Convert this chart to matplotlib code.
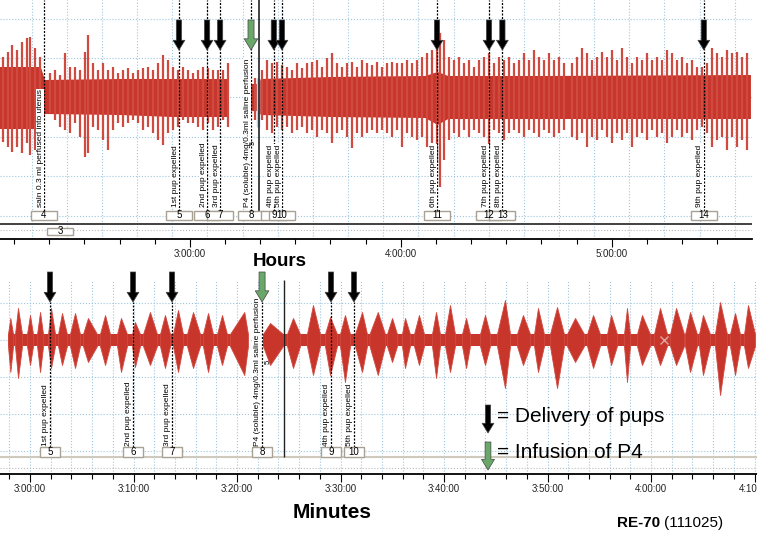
import matplotlib
matplotlib.use('Agg')
import matplotlib.pyplot as plt
from matplotlib.patches import Rectangle
from matplotlib.ticker import FuncFormatter, MultipleLocator
import numpy as np

plt.rcParams['font.family'] = ['Liberation Sans', 'DejaVu Sans']

# ---------------- top panel (hours view), time in minutes ----------------
top_spike_t = [126.9, 128.3, 129.4, 130.8, 132.3, 133.7, 134.5, 136.0, 137.4,
               140.2, 141.6, 143.1, 144.5, 145.9, 147.3, 148.8, 150.2, 151.0, 152.4, 153.9,
               155.3, 156.7, 158.1, 159.6, 161.0, 162.4, 163.8, 165.2, 166.7, 168.1, 169.5,
               170.9, 172.4, 173.8, 175.2, 176.6, 178.0, 179.5,
               180.9, 182.3, 183.7, 185.2, 186.6, 188.0, 189.4, 190.8,
               197.1, 198.5, 200.5, 201.9, 203.4, 204.8, 206.2, 207.6, 209.0, 210.5, 211.9,
               213.3, 214.7, 216.2, 217.6, 219.0, 220.4, 221.8, 223.3, 224.7, 226.1, 227.5,
               229.0, 230.4, 231.8, 233.2,
               234.6, 236.1, 237.5, 238.9, 240.3, 241.8, 243.2, 244.6, 246.0, 247.4, 248.9,
               250.3, 251.1, 252.3, 253.7, 255.1, 256.5, 258.0, 259.4, 260.8, 262.2, 263.6,
               265.1, 266.5, 267.9, 269.3, 270.8, 272.2, 273.6, 275.0, 276.5, 277.9, 279.3,
               280.7, 282.1, 283.6, 285.0, 286.4,
               288.7, 290.1, 291.5, 292.9, 294.4, 295.8, 297.2, 298.6, 300.1, 301.5, 302.9,
               304.3, 305.7, 307.2, 308.6, 310.0, 311.4, 312.9, 314.3, 315.7, 317.1, 318.5,
               320.0, 321.4, 322.8, 324.2, 325.7, 327.1, 328.5, 329.9, 331.3, 332.8, 334.2,
               335.6, 337.0, 338.5]
top_spike_up = [40, 45, 52, 47, 55, 59, 60, 49, 40,
                24, 27, 22, 44, 30, 30, 27, 45, 62, 34, 27, 34, 27, 30, 24, 27, 29, 24, 27,
                29, 30, 27, 34, 42, 37, 30, 27, 30, 27,
                24, 27, 30, 29, 27, 27, 27, 34,
                17, 19, 27, 37, 34, 35, 32, 30, 27, 34, 29, 34, 35, 37, 30, 39, 44, 34, 30,
                34, 35, 30, 37, 34, 32, 35,
                30, 34, 35, 34, 34, 37, 34, 37, 40, 44, 47, 57, 64, 57, 40, 37, 40, 34, 37,
                30, 37, 40, 44, 34, 40, 37, 40, 34, 37, 44, 37, 47, 40, 37, 44, 37, 40, 34,
                34, 40, 49, 44, 37, 40, 45, 40, 47, 37, 49, 40, 34, 40, 37, 44, 37, 40, 37,
                47, 44, 37, 40, 34, 37, 30, 30, 34, 49, 44, 40, 47, 44, 45, 40, 44]
top_spike_dn = [45, 50, 55, 50, 56, 46, 58, 53, 46,
                16, 23, 30, 33, 36, 26, 40, 60, 56, 30, 33, 43, 53, 33, 26, 30, 26, 23, 26,
                33, 30, 36, 43, 48, 36, 33, 30, 23, 26,
                26, 30, 33, 26, 33, 30, 23, 30,
                20, 23, 23, 33, 36, 30, 33, 30, 36, 33, 30, 36, 33, 40, 33, 36, 46, 36, 33,
                40, 51, 36, 40, 36, 33, 36,
                33, 36, 40, 33, 50, 36, 40, 43, 40, 50, 46, 66, 90, 63, 43, 36, 40, 33, 40,
                33, 36, 40, 50, 33, 36, 43, 36, 33, 36, 40, 33, 36, 40, 33, 36, 40, 36, 33,
                40, 43, 36, 50, 40, 43, 33, 40, 46, 36, 43, 36, 50, 40, 36, 43, 33, 40, 36,
                46, 40, 33, 40, 36, 43, 33, 30, 36, 50, 43, 40, 53, 40, 50, 43, 53]

top_core_t = [126.0, 137.6, 138.8, 160.0, 175.0, 190.9, 191.0, 196.4, 196.5, 199.5,
              200.2, 220.0, 247.0, 250.5, 253.5, 280.0, 339.6]
top_core_up = [30, 30, 17, 18, 18, 18, np.nan, np.nan, 13, 13, 18, 20, 21, 25, 21, 21, 22]
top_core_dn = [32, 32, 17, 18, 20, 20, np.nan, np.nan, 14, 14, 18, 20, 21, 28, 22, 22, 22]

top_event_t = [138.5, 176.9, 184.9, 188.6, 197.4, 203.9, 206.2, 250.3, 265.1, 268.9, 326.2]
top_event_num = ['4', '5', '6', '7', '8', '9', '10', '11', '12', '13', '14']
top_event_text = ['saln 0.3 ml perfused into uterus', '1st pup expelled', '2nd pup expelled',
                  '3rd pup expelled', 'P4 (soluble) 4mg/0.3ml saline perfusion',
                  '4th pup expelled', '5th pup expelled', '6th pup expelled',
                  '7th pup expelled', '8th pup expelled', '9th pup expelled']
top_marker_t = 199.7

# ---------------- bottom panel (minutes view) ----------------
base_start = [177.87, 202.51]
base_end = [201.06, 250.05]
b_start = [177.87, 178.55, 179.71, 180.68, 181.74, 182.71, 183.86, 185.12, 186.76, 188.41,
           189.86, 190.92, 192.56, 193.82, 195.17, 196.71, 198.07, 199.32, 202.51, 204.83,
           206.76, 208.50, 209.95, 211.40, 212.80, 214.49, 215.94, 217.10, 218.84, 220.10,
           221.74, 223.48, 225.12, 227.05, 228.70, 230.24, 231.88, 233.82, 235.75, 237.39,
           238.65, 240.29, 241.84, 243.29, 244.64, 246.18, 247.63, 248.99]
b_peak = [178.10, 178.84, 180.00, 180.97, 182.03, 183.09, 184.35, 185.60, 187.25, 188.79,
          190.14, 191.59, 193.04, 194.30, 195.75, 197.20, 198.55, 200.70, 203.19, 205.41,
          207.34, 208.99, 210.43, 212.08, 213.60, 214.98, 216.23, 217.58, 219.23, 220.58,
          222.13, 223.96, 225.89, 227.63, 229.08, 230.92, 232.66, 234.40, 236.14, 237.68,
          239.13, 240.87, 242.42, 243.77, 245.02, 246.67, 248.12, 249.37]
b_end = [178.36, 179.23, 180.29, 181.26, 182.42, 183.57, 184.83, 186.47, 187.73, 189.37,
         190.63, 192.27, 193.53, 194.78, 196.43, 197.68, 199.03, 201.06, 204.44, 206.09,
         208.02, 209.66, 210.92, 212.56, 214.30, 215.46, 216.71, 218.07, 219.61, 221.06,
         222.51, 224.44, 226.38, 228.31, 229.66, 231.59, 233.53, 235.07, 236.71, 237.97,
         239.90, 241.55, 243.19, 244.44, 245.70, 247.34, 248.60, 250.05]
b_up = [22, 32, 25, 28, 32, 27, 27, 22, 25, 22, 18, 28, 25, 30, 28, 27, 25, 28, 17, 22,
        35, 23, 25, 28, 28, 22, 22, 25, 28, 35, 22, 25, 40, 25, 32, 33, 22, 25, 25, 32,
        25, 32, 32, 28, 25, 38, 27, 35]
b_dn = [32, 38, 25, 32, 28, 25, 28, 22, 25, 32, 27, 25, 28, 32, 28, 32, 25, 35, 25, 28,
        35, 35, 42, 32, 35, 22, 28, 25, 38, 32, 28, 25, 48, 25, 32, 48, 22, 28, 25, 42,
        25, 25, 25, 32, 35, 55, 35, 28]

bot_event_t = [181.93, 189.95, 193.72, 202.42, 209.08, 211.30]
bot_event_num = ['5', '6', '7', '8', '9', '10']
bot_event_text = ['1st pup expelled', '2nd pup expelled', '3rd pup expelled',
                  'P4 (soluble) 4mg/0.3ml saline perfusion', '4th pup expelled',
                  '5th pup expelled']
bot_marker_t = 204.54

RED = '#c8352b'
SPIKE = '#d04a40'
GREEN = '#6aa86a'
GRID = '#9fc6de'


def hms(v, pos=None):
    total = int(round(v * 60))
    return f"{total // 3600}:{(total % 3600) // 60:02d}:{total % 60:02d}"


def arrow(ax, x, y0, y1, color, s=1.0, coords='data'):
    ax.annotate('', xy=(x, y1), xytext=(x, y0), xycoords=coords, textcoords=coords,
                arrowprops=dict(arrowstyle=f'simple,head_length={0.7*s},head_width={0.85*s},'
                                           f'tail_width={0.38*s}',
                                fc=color, ec='#444444', lw=0.5, shrinkA=0, shrinkB=0),
                annotation_clip=False, zorder=8)


def style_axis(ax, hgrid, vgrid):
    for side in ['top', 'left', 'right']:
        ax.spines[side].set_visible(False)
    ax.spines['bottom'].set_linewidth(1.3)
    ax.set_yticks([])
    for g in hgrid:
        ax.axhline(g, color=GRID, ls=':', lw=0.8, zorder=0)
    for g in vgrid:
        ax.axvline(g, color=GRID, ls=':', lw=0.8, zorder=0)
    ax.xaxis.set_major_formatter(FuncFormatter(hms))
    ax.tick_params(axis='x', which='major', length=6, width=0.8, labelsize=7, pad=1.5,
                   labelcolor='#222222')
    ax.tick_params(axis='x', which='minor', length=3.5, width=0.8)


def events(ax, times, nums, texts, y_line_top, y_box, box_h, box_w, y_text):
    for t, n, txt in zip(times, nums, texts):
        ax.vlines(t, y_box + box_h, y_line_top, color='black', lw=0.9,
                  linestyles=(0, (1.6, 1.2)), zorder=4)
        ax.text(t - 0.1, y_text, txt, rotation=90, ha='right', va='bottom', fontsize=6,
                bbox=dict(fc='white', ec='none', pad=0.3), zorder=5)
        ax.add_patch(Rectangle((t - box_w / 2, y_box), box_w, box_h, fc='white',
                               ec='#a8a294', lw=1.0, zorder=6))
        ax.text(t, y_box + box_h / 2, n, ha='center', va='center', fontsize=7, zorder=7)


fig = plt.figure(figsize=(7.57, 5.35), dpi=100)
W, H = 757, 535
ax1 = fig.add_axes([0, 1 - 239 / H, 752 / W, 239 / H])
ax2 = fig.add_axes([0, 1 - 474 / H, 1.0, 194 / H])

# ---- top panel ----
ax1.set_xlim(126.0, 339.9)
ax1.set_ylim(-142, 97)
style_axis(ax1, [78, 39.5, 0, -39.5, -79, -118.5], np.arange(135, 340, 10))
ax1.xaxis.set_major_locator(MultipleLocator(60))
ax1.xaxis.set_minor_locator(MultipleLocator(10))
ax1.fill_between(top_core_t, np.negative(top_core_dn), top_core_up, color=RED, lw=0,
                 zorder=2)
ax1.vlines(top_spike_t, np.negative(top_spike_dn), top_spike_up, color=SPIKE, lw=1.6,
           zorder=2)
ax1.vlines(199.3, -30, 19, color='#b5d5ea', lw=2.5, zorder=3)
ax1.vlines(top_marker_t, -116, 97, color='#222222', lw=1.2, zorder=4)
ax1.axhline(-127, color='#333333', lw=1.3)
ax1.axhline(-133, color='#bbbbbb', ls=':', lw=0.8)
events(ax1, top_event_t, top_event_num, top_event_text, 97, -123, 9, 7.4, -110)
for t, n in zip(top_event_t, top_event_num):
    if n != '4':
        arrow(ax1, t, 77, 47, GREEN if n == '8' else 'black', 1.15 if n == '8' else 1.0)
ax1.text(198.1, -46, '5', rotation=90, fontsize=5.5, ha='center', va='center', zorder=6)
ax1.add_patch(Rectangle((139.4, -138), 7.4, 7, fc='white', ec='#a8a294', lw=1.0, zorder=6))
ax1.text(143.1, -134.5, '3', ha='center', va='center', fontsize=7, zorder=7)

# ---- bottom panel ----
ax2.set_xlim(177.10, 250.24)
ax2.set_ylim(-134, 60)
style_axis(ax2, [37, 0, -37, -74, -111], np.arange(178, 251, 2))
ax2.xaxis.set_major_locator(MultipleLocator(10))
ax2.xaxis.set_minor_locator(MultipleLocator(2))
for s0, s1 in zip(base_start, base_end):
    ax2.fill_between([s0, s1], [-6, -6], [6, 6], color=RED, lw=0, zorder=2)
for s0, p, s1, u, d in zip(b_start, b_peak, b_end, b_up, b_dn):
    ax2.fill_between([s0, p, s1], [-6, -d, -6], [6, u, 6], color=RED, lw=0.6,
                     edgecolor=SPIKE, zorder=2)
ax2.plot([241.26], [0], marker='x', color='#d9a7a3', ms=6, mew=1, zorder=3)
ax2.vlines(bot_marker_t, -117, 60, color='#222222', lw=1.0, zorder=4)
ax2.axhline(-117, color='#cfcabd', lw=1.5)
ax2.axhline(-128, color='#bbbbbb', ls=':', lw=0.8)
events(ax2, bot_event_t, bot_event_num, bot_event_text, 38, -117, 10, 1.93, -106)
for t, n in zip(bot_event_t, bot_event_num):
    arrow(ax2, t, 68, 38, GREEN if n == '8' else 'black', 1.15 if n == '8' else 1.0)
ax2.text(203.0, -22, '5', rotation=90, fontsize=5.5, ha='center', va='center', zorder=6)

# ---- legend and captions ----
arrow(ax2, 488, 130, 102, 'black', 1.0, 'figure pixels')
arrow(ax2, 488, 93, 65, GREEN, 1.1, 'figure pixels')
fig.text(497 / W, 1 - 417 / H, '= Delivery of pups', fontsize=15, va='center')
fig.text(497 / W, 1 - 453 / H, '= Infusion of P4', fontsize=15, va='center')
fig.text(280 / W, 1 - 262 / H, 'Hours', fontsize=13.5, fontweight='bold', ha='center',
         va='center')
fig.text(332 / W, 1 - 513 / H, 'Minutes', fontsize=15, fontweight='bold', ha='center',
         va='center')
fig.text(617 / W, 1 - 523 / H, 'RE-70', fontsize=11, fontweight='bold', va='center')
fig.text(664 / W, 1 - 523 / H, '(111025)', fontsize=11, va='center')

fig.savefig('out.png', dpi=100)
